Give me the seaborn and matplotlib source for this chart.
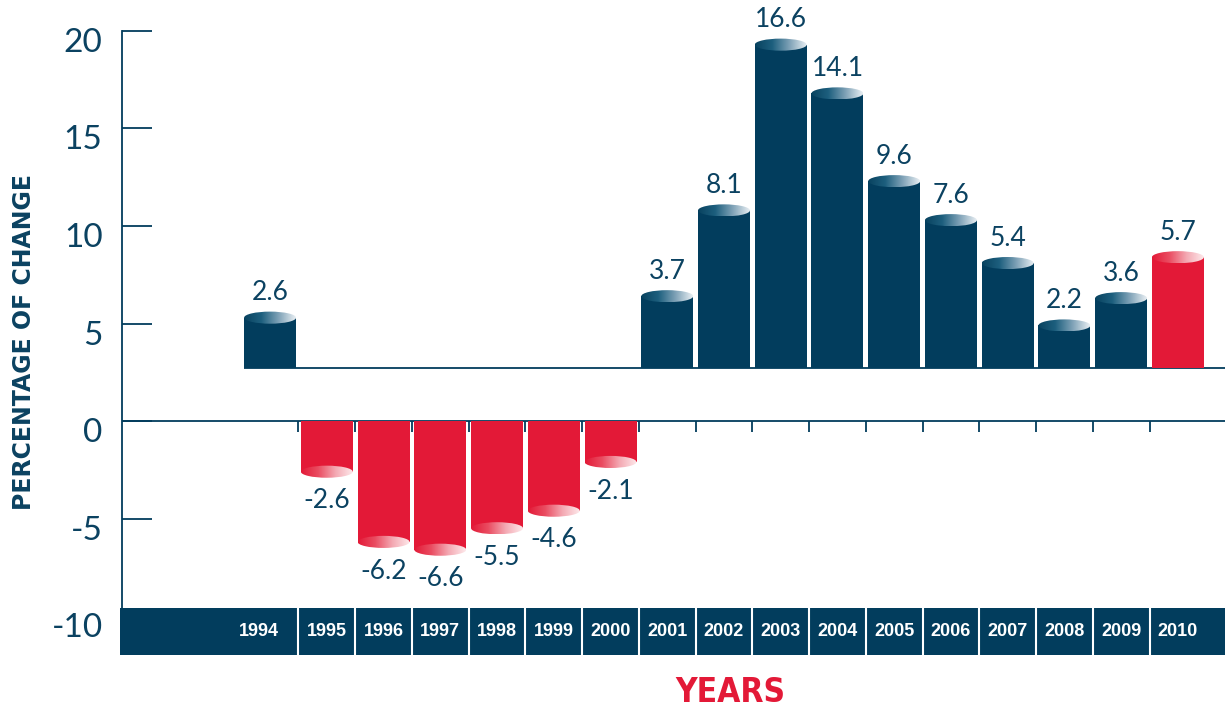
import numpy as np
import pandas as pd
import matplotlib
matplotlib.use("Agg")
import matplotlib.pyplot as plt
import matplotlib.transforms as mtransforms
from matplotlib.patches import Ellipse, Rectangle
from matplotlib.colors import LinearSegmentedColormap
import seaborn as sns

# ---------------- data ----------------
years = [str(y) for y in range(1994, 2011)]
values = [2.6, -2.6, -6.2, -6.6, -5.5, -4.6, -2.1, 3.7, 8.1, 16.6, 14.1,
          9.6, 7.6, 5.4, 2.2, 3.6, 5.7]
groups = ["navy", "red", "red", "red", "red", "red", "red", "navy", "navy",
          "navy", "navy", "navy", "navy", "navy", "navy", "navy", "red"]
yticks = [20, 15, 10, 5, 0, -5, -10]
ytick_labels = ["20", "15", "10", "5", "0", "-5", "-10"]

# ---------------- style ----------------
NAVY = "#023d5d"
TEXT = "#0b4261"
RED = "#e31937"
palette = {"navy": NAVY, "red": RED}
POS_BASE = 2.7          # positive bars are drawn from a raised baseline
BAR_W = 0.916
ELL_H = 0.62

sns.set_theme(style="white")
plt.rcParams["font.family"] = ["Lato", "DejaVu Sans"]

W, H = 1225, 709
fig = plt.figure(figsize=(W / 100, H / 100), dpi=100)
ax = fig.add_axes([122 / W, 49 / H, 1 - 122 / W, 640 / H])

df = pd.DataFrame({"year": years, "value": values, "group": groups})
pos = df[df["value"] >= 0]
neg = df[df["value"] < 0]

sns.barplot(data=pos, x="year", y="value", order=years, hue="group",
            palette=palette, dodge=False, legend=False, errorbar=None,
            width=BAR_W, bottom=POS_BASE, linewidth=0, zorder=3,
            saturation=1, ax=ax)
sns.barplot(data=neg, x="year", y="value", order=years, hue="group",
            palette=palette, dodge=False, legend=False, errorbar=None,
            width=BAR_W, bottom=0, linewidth=0, zorder=3,
            saturation=1, ax=ax)

XMIN, XMAX = -2.61, 16.83
YMIN, YMAX = -12.256, 20.564

cmap_navy = LinearSegmentedColormap.from_list(
    "nv", ["#08425f", "#1d5f7e", "#7fa2b7", "#e9eff3"])
cmap_red = LinearSegmentedColormap.from_list(
    "rd", ["#e31937", "#ea4d62", "#f4a9b3", "#fde9eb"])
grad = np.linspace(0, 1, 256).reshape(1, -1)

for i, (v, g) in enumerate(zip(values, groups)):
    cy = POS_BASE + v if v >= 0 else v
    cmap = cmap_navy if g == "navy" else cmap_red
    ell = Ellipse((i, cy), BAR_W, ELL_H, transform=ax.transData,
                  facecolor="none", edgecolor="none")
    ax.add_patch(ell)
    im = ax.imshow(grad, extent=[i - BAR_W / 2, i + BAR_W / 2,
                                 cy - ELL_H / 2, cy + ELL_H / 2],
                   cmap=cmap, aspect="auto", interpolation="bilinear",
                   zorder=4)
    im.set_clip_path(ell)
    dy = 18 if v >= 0 else -21
    ax.annotate(f"{v:.1f}", (i, cy), xytext=(0, dy),
                textcoords="offset points", ha="center", va="center",
                fontsize=19, color=TEXT, zorder=6)

# zero line, raised baseline and boundary ticks
ax.axhline(0, color=NAVY, lw=1.3, zorder=2)
ax.hlines(POS_BASE, -BAR_W / 2, XMAX, color=NAVY, lw=1.3, zorder=2)
bounds = [i + 0.5 for i in range(len(years) - 1)]
ax.vlines(bounds, -0.56, 0, color=NAVY, lw=1.3, zorder=2)

# bottom band with years
BAND_TOP, BAND_BOT = -9.59, -12.0
ax.add_patch(Rectangle((-2.65, BAND_BOT), XMAX + 3, BAND_TOP - BAND_BOT,
                       facecolor=NAVY, edgecolor="none", zorder=5,
                       clip_on=False))
ax.vlines(bounds, BAND_BOT, BAND_TOP, color="white", lw=1.5, zorder=6)
for i, yr in enumerate(years):
    xo = i - 0.2 if i == 0 else i
    ax.text(xo, -10.8, yr, color="white", ha="center", va="center",
            fontsize=13, fontweight="bold",
            family=["Liberation Sans", "DejaVu Sans"], zorder=7)

# axes styling
ax.set_xlim(XMIN, XMAX)
ax.set_ylim(YMIN, YMAX)
ax.set_xticks([])
for s in ["top", "right", "bottom"]:
    ax.spines[s].set_visible(False)
ax.spines["left"].set_bounds(BAND_TOP, 20)
ax.spines["left"].set_color(NAVY)
ax.spines["left"].set_linewidth(1.3)
ax.set_yticks(yticks)
ax.set_yticklabels(ytick_labels)
ax.tick_params(axis="y", direction="in", length=21.6, width=1.3,
               color=NAVY, pad=14, labelsize=24, labelcolor=TEXT, left=True)
off = mtransforms.ScaledTranslation(0, -0.09, fig.dpi_scale_trans)
for lab in ax.get_yticklabels():
    lab.set_transform(lab.get_transform() + off)

ax.set_ylabel("PERCENTAGE OF CHANGE", fontsize=17, fontweight="bold",
              color=TEXT, va="center", family=["DejaVu Sans"])
ax.yaxis.set_label_coords((24 - 122) / 1103, (660 - 342) / 640)
ax.set_xlabel("YEARS", fontsize=24, fontweight="bold", color=RED,
              va="center", family=["DejaVu Sans"], fontstretch="condensed")
ax.xaxis.set_label_coords((730 - 122) / 1103, (660 - 692) / 640)
ax.grid(False)

fig.savefig("out.png", dpi=100)
